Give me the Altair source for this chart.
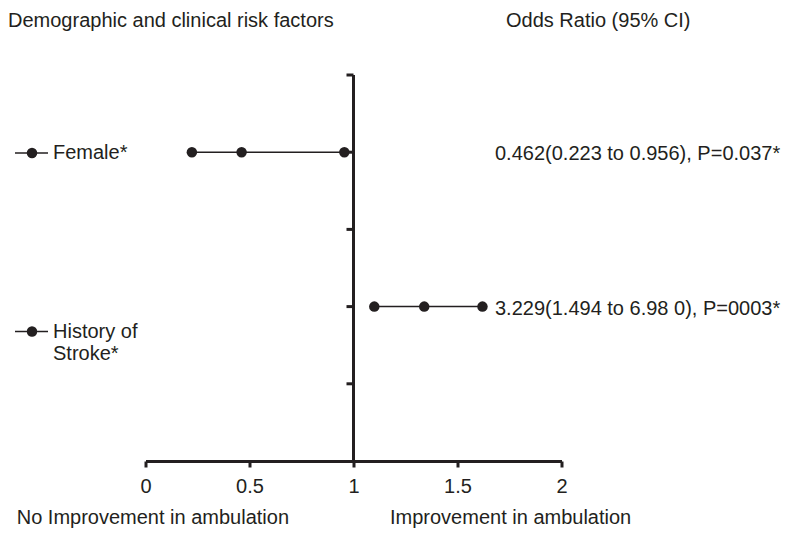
import altair as alt
import pandas as pd

# ---- data ----
factors = ["Female*", "History of Stroke*"]
odds_ratio = [0.462, 1.34]
ci_lower = [0.223, 1.10]
ci_upper = [0.956, 1.62]
row_pos = [4, 2]
annotations = ["0.462(0.223 to 0.956), P=0.037*", "3.229(1.494 to 6.98 0), P=0003*"]
x_ticks = [0, 0.5, 1, 1.5, 2]
y_ticks = [1, 2, 3, 4, 5]

FONT = "Liberation Sans"
FS = 20
INK = "#231f20"

rows = pd.DataFrame({"factor": factors, "or": odds_ratio, "lo": ci_lower,
                     "hi": ci_upper, "row": row_pos, "ann": annotations})
pts = pd.DataFrame({
    "factor": factors * 3,
    "value": ci_lower + odds_ratio + ci_upper,
    "row": row_pos * 3,
})
yt = pd.DataFrame({"y": y_ticks})
vline = pd.DataFrame({"x": [1], "y": [0], "y2": [5]})

xs = alt.Scale(domain=[0, 2], nice=False)
ys = alt.Scale(domain=[0, 5], nice=False)

base_x_axis = alt.Axis(values=x_ticks, grid=False, domainColor=INK, domainWidth=3,
                       tickColor=INK, tickWidth=3, tickSize=6, labelFontSize=FS,
                       labelFont=FONT, labelColor=INK, labelPadding=9, title=None,
                       labelFlush=False, labelExpr="datum.value")

ci = alt.Chart(rows).mark_rule(color=INK, strokeWidth=1.5).encode(
    x=alt.X("lo:Q", scale=xs, axis=base_x_axis),
    x2="hi:Q",
    y=alt.Y("row:Q", scale=ys, axis=None),
)

dots = alt.Chart(pts).mark_point(filled=True, size=110, color=INK, opacity=1).encode(
    x=alt.X("value:Q", scale=xs),
    y=alt.Y("row:Q", scale=ys),
)

v_rule = alt.Chart(vline).mark_rule(color=INK, strokeWidth=3).encode(
    x=alt.X("x:Q", scale=xs), y=alt.Y("y:Q", scale=ys), y2="y2:Q"
)

y_tick_marks = alt.Chart(yt).mark_rule(color=INK, strokeWidth=3, xOffset=-7).encode(
    x=alt.datum(1), x2=alt.datum(1), y=alt.Y("y:Q", scale=ys)
)

ann = alt.Chart(rows).mark_text(align="left", baseline="middle", font=FONT,
                                fontSize=FS, color=INK, yOffset=2).encode(
    x=alt.value(349.5), y=alt.Y("row:Q", scale=ys), text="ann:N"
)

# left-side labels with line/dot glyphs
lab = pd.DataFrame({"txt": ["Female*", "History of\nStroke*"],
                    "ypix": [78, 256.5]})
left_text = alt.Chart(lab).mark_text(align="left", baseline="middle", font=FONT,
                                     fontSize=FS, color=INK, lineBreak="\n",
                                     lineHeight=22).encode(
    x=alt.value(-92.5), y=alt.Y("ypix:Q", scale=None), text="txt:N"
)
glyph_line = alt.Chart(lab).mark_rule(color=INK, strokeWidth=1.5).encode(
    x=alt.value(-130.5), x2=alt.value(-97.5), y=alt.Y("ypix:Q", scale=None)
)
glyph_dot = alt.Chart(lab).mark_point(filled=True, size=110, color=INK, opacity=1).encode(
    x=alt.value(-113.5), y=alt.Y("ypix:Q", scale=None)
)

headers = pd.DataFrame({
    "txt": ["Demographic and clinical risk factors", "Odds Ratio (95% CI)",
            "No Improvement in ambulation", "Improvement in ambulation"],
    "xp": [-137.5, 360.5, -128.8, 244.5],
    "yp": [-54, -54, 443, 443],
})
head_text = alt.Chart(headers).mark_text(align="left", baseline="middle", font=FONT,
                                         fontSize=FS, color=INK).encode(
    x=alt.X("xp:Q", scale=None), y=alt.Y("yp:Q", scale=None), text="txt:N"
)

chart = alt.layer(ci, v_rule, y_tick_marks, dots, ann, glyph_line, glyph_dot,
                  left_text, head_text).properties(
    width=416, height=386,
    autosize=alt.AutoSizeParams(type="none"),
    padding={"left": 137.5, "top": 67, "right": 220, "bottom": 67},
    background="white",
).configure_view(stroke=None)

chart.save("out.html", embed_options={"renderer": "svg", "actions": False})
